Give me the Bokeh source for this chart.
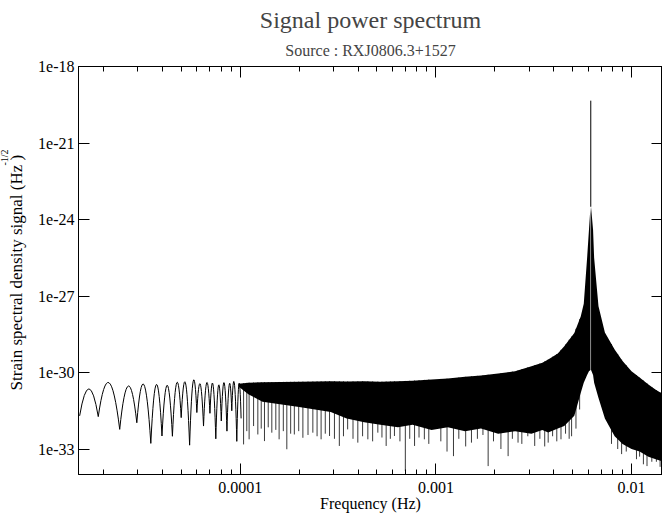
import numpy as np
from bokeh.plotting import figure
from bokeh.models import LogAxis, FixedTicker, CustomJSTickFormatter, Title
from bokeh.embed import file_html
from bokeh.resources import INLINE

FONT = "Liberation Serif"

# ---------------- data ----------------
title_text = "Signal power spectrum"
subtitle_text = "Source : RXJ0806.3+1527"
x_label = "Frequency (Hz)"
y_label = "Strain spectral density signal (Hz  )"
y_label_sup = "-1/2"

x_lo, x_hi = 1.49e-5, 1.44e-2
y_lo, y_hi = 1e-34, 1e-18

x_ticks = [1e-4, 1e-3, 1e-2]
x_tick_labels = ["0.0001", "0.001", "0.01"]
y_ticks = [1e-33, 1e-30, 1e-27, 1e-24, 1e-21, 1e-18]

# low-frequency side-lobes: null frequencies, null levels (log10) and lobe peak levels (log10)
lobe_null_f = [1.51e-5, 1.88e-5, 2.42e-5, 2.96e-5, 3.49e-5, 3.98e-5, 4.50e-5, 4.99e-5,
               5.51e-5, 6.00e-5, 6.49e-5, 7.00e-5, 7.50e-5, 8.00e-5, 8.55e-5, 9.05e-5,
               9.60e-5, 1.01e-4]
lobe_null_log = [-31.70, -31.73, -32.23, -31.97, -32.78, -32.49, -32.50, -31.77,
                 -32.85, -31.57, -32.10, -31.60, -32.60, -31.90, -32.30, -31.50,
                 -32.70, -31.80]
lobe_peak_log = [-30.64, -30.40, -30.53, -30.47, -30.47, -30.50, -30.40, -30.40,
                 -30.34, -30.45, -30.40, -30.45, -30.50, -30.40, -30.45, -30.40, -30.45]

# dense part below the line peak (envelopes, log10)
left_f = [9.80e-5, 1.10e-4, 1.30e-4, 2.00e-4, 2.90e-4, 3.50e-4, 4.30e-4, 5.20e-4, 6.40e-4,
          7.60e-4, 9.50e-4, 1.15e-3, 1.41e-3, 1.70e-3, 2.08e-3, 2.54e-3, 3.08e-3,
          3.50e-3, 3.75e-3, 4.20e-3, 4.53e-3, 5.10e-3, 5.50e-3, 5.70e-3, 5.93e-3,
          6.06e-3, 6.17e-3]
left_hi_log = [-30.44, -30.40, -30.38, -30.36, -30.34, -30.35, -30.34, -30.36, -30.34,
               -30.32, -30.27, -30.24, -30.17, -30.12, -30.04, -29.95, -29.75,
               -29.62, -29.49, -29.25, -28.97, -28.45, -27.80, -27.30, -25.50,
               -24.40, -23.50]
left_lo_log = [-30.55, -30.85, -31.15, -31.35, -31.55, -31.80, -31.95, -32.05, -32.15,
               -32.05, -32.25, -32.15, -32.30, -32.20, -32.40, -32.30, -32.40,
               -32.25, -32.35, -32.20, -32.10, -31.70, -30.80, -30.40, -30.10,
               -29.95, -29.90]

right_f = [6.21e-3, 6.36e-3, 6.44e-3, 6.78e-3, 7.31e-3, 8.20e-3, 9.00e-3, 1.00e-2,
           1.10e-2, 1.22e-2, 1.33e-2, 1.46e-2]
right_hi_log = [-23.50, -24.40, -25.50, -27.40, -28.43, -29.10, -29.55, -29.95,
                -30.20, -30.47, -30.68, -30.86]
right_lo_log = [-29.90, -30.10, -30.40, -31.00, -31.80, -32.50, -32.80, -33.00,
                -33.10, -33.30, -33.40, -33.50]

peak_f = [6.19e-3]
peak_top_log = [-19.34]
peak_base_log = [-23.50]

# isolated deep minima below the dense band
spike_f = [1.04e-4, 1.08e-4, 1.11e-4, 1.17e-4, 1.23e-4, 1.28e-4, 1.33e-4, 1.39e-4,
           1.45e-4, 1.52e-4, 1.58e-4, 1.66e-4, 1.73e-4, 1.81e-4, 1.89e-4, 1.99e-4,
           2.09e-4, 2.22e-4, 2.35e-4, 2.47e-4, 2.59e-4, 2.72e-4, 2.86e-4, 3.03e-4,
           3.21e-4, 3.37e-4, 3.54e-4, 3.77e-4, 3.99e-4, 4.22e-4, 4.49e-4, 4.75e-4,
           5.05e-4, 5.30e-4, 5.57e-4, 5.85e-4, 6.14e-4, 6.55e-4, 6.98e-4, 7.35e-4,
           7.78e-4, 8.20e-4, 8.73e-4, 9.20e-4, 1.06e-3, 1.14e-3, 1.23e-3, 1.31e-3,
           1.42e-3, 1.52e-3, 1.63e-3, 1.74e-3, 1.85e-3, 1.97e-3, 2.15e-3, 2.34e-3,
           2.46e-3, 2.63e-3, 2.75e-3, 2.95e-3, 3.20e-3, 3.40e-3, 3.60e-3, 3.75e-3,
           3.95e-3, 4.15e-3, 4.36e-3, 4.60e-3, 4.80e-3, 4.94e-3, 5.20e-3, 5.43e-3,
           7.90e-3, 8.50e-3, 8.90e-3, 9.40e-3, 1.06e-2, 1.10e-2, 1.15e-2, 1.20e-2,
           1.27e-2, 1.34e-2, 1.40e-2]
spike_log = [-32.82, -32.30, -32.62, -32.10, -32.43, -32.20, -32.69, -32.15,
             -32.36, -32.25, -32.62, -32.30, -33.01, -32.40, -32.43, -32.30,
             -32.56, -32.45, -32.36, -32.50, -32.62, -32.40, -32.49, -32.60,
             -32.88, -32.50, -32.23, -32.60, -32.75, -32.50, -32.62, -32.70,
             -32.36, -32.55, -32.88, -32.60, -32.49, -32.70, -33.86, -32.60,
             -32.88, -32.55, -32.62, -32.80, -32.70, -33.10, -33.28, -32.60,
             -32.90, -32.75, -32.60, -32.45, -33.67, -32.70, -33.00, -33.28,
             -32.60, -32.75, -32.80, -32.50, -32.88, -32.60, -32.90, -32.75,
             -32.50, -32.70, -32.62, -32.40, -32.60, -32.50, -32.20, -31.45,
             -32.80, -33.00, -33.20, -33.10, -33.40, -33.30, -33.60, -33.67,
             -33.50, -33.50, -33.70]

# ---------------- figure ----------------
p = figure(width=662, height=514, x_axis_type="log", y_axis_type="log",
           x_range=(x_lo, x_hi), y_range=(y_lo, y_hi),
           output_backend="svg", toolbar_location=None,
           min_border_left=78, min_border_right=0, min_border_top=66, min_border_bottom=40)
p.background_fill_color = "white"
p.border_fill_color = "white"
p.outline_line_color = "black"
p.xgrid.visible = False
p.ygrid.visible = False

minor_x = [m * 10.0 ** e for e in (-5, -4, -3) for m in range(2, 10)]
x_fmt = CustomJSTickFormatter(args=dict(tvals=x_ticks, tlabels=x_tick_labels), code="""
    for (let i = 0; i < tvals.length; i++) {
        if (Math.abs(Math.log10(tick) - Math.log10(tvals[i])) < 1e-6) return tlabels[i];
    }
    return "";
""")
y_fmt = CustomJSTickFormatter(code='return "1e" + Math.round(Math.log10(tick));')
blank_fmt = CustomJSTickFormatter(code='return "";')


def style_axis(ax, ticks, minor, fmt, show_labels, standoff=4):
    ax.ticker = FixedTicker(ticks=ticks, minor_ticks=minor)
    ax.formatter = fmt
    ax.major_tick_in = 11
    ax.major_tick_out = 0
    ax.minor_tick_in = 5
    ax.minor_tick_out = 0
    ax.axis_line_color = "black"
    ax.major_tick_line_color = "black"
    ax.minor_tick_line_color = "black"
    ax.major_label_text_font = FONT
    ax.major_label_text_color = "black"
    ax.major_label_text_font_size = "16px" if show_labels else "0px"
    ax.major_label_standoff = standoff if show_labels else 0
    ax.axis_label_text_font = FONT
    ax.axis_label_text_font_style = "normal"
    ax.axis_label_text_color = "black"


xb = p.below[0]
yl = p.left[0]
style_axis(xb, x_ticks, minor_x, x_fmt, True, standoff=7)
style_axis(yl, y_ticks, [], y_fmt, True, standoff=4)
xb.axis_label = x_label
xb.axis_label_text_font_size = "16px"
xb.axis_label_standoff = -1
yl.axis_label = y_label
yl.axis_label_text_font_size = "17px"
yl.axis_label_standoff = 9

# superscript of the y-axis label, placed in the left panel beyond the axis label
p.add_layout(Title(text=y_label_sup, align="left", offset=309, standoff=-11,
                   text_font=FONT, text_font_size="10px", text_font_style="normal",
                   text_color="black"), "left")

# mirrored axes (ticks only) - top axis added first so it sits on the frame
xt = LogAxis()
style_axis(xt, x_ticks, minor_x, blank_fmt, False)
p.add_layout(xt, "above")
yr = LogAxis()
style_axis(yr, y_ticks, [], blank_fmt, False)
p.add_layout(yr, "right")

p.title.text = title_text
p.title.align = "center"
p.title.text_font = FONT
p.title.text_font_size = "24px"
p.title.text_font_style = "normal"
p.title.standoff = 0
p.add_layout(Title(text=subtitle_text, align="center", text_font=FONT, standoff=15,
                   text_font_size="16px", text_font_style="normal"), "above")

# ---------------- glyphs ----------------
sf = np.array(spike_f)
env_f = np.log10(np.array(left_f + right_f))
env_hi = np.array(left_hi_log + right_hi_log)
spike_top = 10 ** np.interp(np.log10(sf), env_f, env_hi)
p.segment(x0=sf, y0=spike_top, x1=sf, y1=10 ** np.array(spike_log),
          line_color="#3a3a3a", line_width=1)

p.varea(x=left_f, y1=10 ** np.array(left_lo_log), y2=10 ** np.array(left_hi_log),
        fill_color="black")
p.varea(x=right_f, y1=10 ** np.array(right_lo_log), y2=10 ** np.array(right_hi_log),
        fill_color="black")

nf = np.array(lobe_null_f)
nl = np.array(lobe_null_log)
pl = np.array(lobe_peak_log)
p.quadratic(x0=nf[:-1], y0=10 ** nl[:-1], x1=nf[1:], y1=10 ** nl[1:],
            cx=np.sqrt(nf[:-1] * nf[1:]), cy=10 ** ((4 * pl - nl[:-1] - nl[1:]) / 2),
            line_color="black", line_width=1)

p.segment(x0=peak_f, y0=10 ** np.array(peak_base_log), x1=peak_f,
          y1=10 ** np.array(peak_top_log), line_color="black", line_width=1)

open("out.html", "w").write(file_html(p, INLINE))
